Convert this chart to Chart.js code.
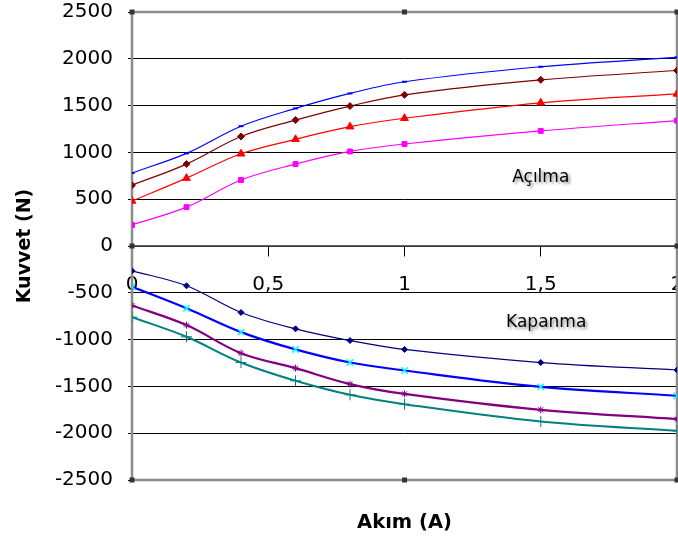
<!DOCTYPE html>
<html>
<head>
<meta charset="utf-8">
<script src="https://cdn.jsdelivr.net/npm/chart.js@4/dist/chart.umd.min.js"></script>
<style>
  html, body { margin: 0; padding: 0; background: #fff; }
  #wrap { width: 678px; height: 541px; position: relative; }
</style>
</head>
<body>
<div id="wrap"><canvas id="chart"></canvas></div>
<script>
// Current (A) at which each force was measured
const akim = [0, 0.2, 0.4, 0.6, 0.8, 1, 1.5, 2];

// Opening forces (N)
const acilma1 = [780, 990, 1280, 1470, 1630, 1755, 1915, 2015];
const acilma2 = [650, 875, 1170, 1345, 1495, 1615, 1775, 1875];
const acilma3 = [480, 725, 985, 1140, 1275, 1365, 1530, 1625];
const acilma4 = [225, 415, 705, 875, 1010, 1090, 1230, 1340];

// Closing forces (N)
const kapanma1 = [-265, -425, -710, -885, -1010, -1105, -1245, -1325];
const kapanma2 = [-435, -665, -920, -1105, -1245, -1330, -1505, -1600];
const kapanma3 = [-635, -845, -1145, -1305, -1475, -1580, -1750, -1850];
const kapanma4 = [-760, -970, -1245, -1440, -1590, -1690, -1875, -1975];

// Group labels written inside the plot, placed at data coordinates
const notes = ["Açılma", "Kapanma"];
const noteX = [1.5, 1.52];
const noteY = [730, -815];

const yTicks = [-2500, 2500, 500];

Chart.defaults.font.family = "'DejaVu Sans', Arial, sans-serif";
Chart.defaults.color = "#000";

function points(values) {
  return akim.map((x, i) => ({ x: x, y: values[i] }));
}

function series(values, color, lineWidth, marker) {
  return Object.assign({
    data: points(values),
    borderColor: color,
    backgroundColor: color,
    borderWidth: lineWidth,
    pointBorderColor: color,
    pointBackgroundColor: color,
    pointBorderWidth: 1,
    tension: 0.35,
    fill: false
  }, marker);
}

// the axes shouldn't push the plot area in for their end labels
function noPadding(scale) {
  scale.paddingLeft = 0;
  scale.paddingRight = 0;
  scale.paddingTop = 0;
  scale.paddingBottom = 0;
}

// Grey plot frame with the little selection handles round it
const plotFrame = {
  id: "plotFrame",
  beforeDatasetsDraw(chart) {
    const a = chart.chartArea;
    const ctx = chart.ctx;
    ctx.save();
    ctx.strokeStyle = "#8c8c8c";
    ctx.lineWidth = 2.5;
    ctx.strokeRect(a.left, a.top, a.right - a.left, a.bottom - a.top);
    const midX = (a.left + a.right) / 2;
    const midY = (a.top + a.bottom) / 2;
    const spots = [
      [a.left, a.top], [midX, a.top], [a.right, a.top],
      [a.left, midY], [a.right, midY],
      [a.left, a.bottom], [midX, a.bottom], [a.right, a.bottom]
    ];
    ctx.fillStyle = "#333";
    spots.forEach(([px, py]) => ctx.fillRect(px - 2.5, py - 2.5, 5, 5));
    ctx.restore();
  }
};

// Shadowed group labels
const groupNotes = {
  id: "groupNotes",
  afterDatasetsDraw(chart) {
    const ctx = chart.ctx;
    const xs = chart.scales.x;
    const ys = chart.scales.y;
    ctx.save();
    ctx.font = "17px 'DejaVu Sans', Arial, sans-serif";
    ctx.textAlign = "center";
    ctx.textBaseline = "middle";
    ctx.fillStyle = "#000";
    ctx.shadowColor = "rgba(0,0,0,0.45)";
    ctx.shadowOffsetX = 2;
    ctx.shadowOffsetY = 2;
    ctx.shadowBlur = 3;
    notes.forEach((text, i) => {
      ctx.fillText(text, xs.getPixelForValue(noteX[i]), ys.getPixelForValue(noteY[i]));
    });
    ctx.restore();
  }
};

new Chart(document.getElementById("chart"), {
  type: "line",
  data: {
    datasets: [
      series(acilma1, "#0000FF", 1.2, { pointStyle: "line", pointRadius: 2.5, pointBorderWidth: 2 }),
      series(acilma2, "#800000", 1.2, { pointStyle: "rectRot", pointRadius: 3.5 }),
      series(acilma3, "#FF0000", 1.2, { pointStyle: "triangle", pointRadius: 4.5 }),
      series(acilma4, "#FF00FF", 1.2, { pointStyle: "rect", pointRadius: 3.5 }),
      series(kapanma1, "#000080", 1.2, { pointStyle: "rectRot", pointRadius: 3 }),
      series(kapanma2, "#0000FF", 2.2, { pointStyle: "crossRot", pointRadius: 4.5, pointBorderColor: "#00FFFF", pointBorderWidth: 1.5 }),
      series(kapanma3, "#800080", 2.2, { pointStyle: "star", pointRadius: 3.5 }),
      series(kapanma4, "#008080", 2, { pointStyle: "cross", pointRadius: 5.5 })
    ]
  },
  options: {
    responsive: true,
    maintainAspectRatio: false,
    animation: false,
    layout: { autoPadding: false, padding: { top: 12, right: 1, bottom: 0, left: 0 } },
    plugins: {
      legend: { display: false },
      tooltip: { enabled: false }
    },
    scales: {
      x: {
        type: "linear",
        position: { y: 0 },
        min: 0,
        max: 2,
        ticks: {
          stepSize: 0.5,
          padding: 17,
          font: { size: 20 },
          maxRotation: 0,
          callback: (v) => String(v).replace(".", ",")
        },
        grid: { drawOnChartArea: false, drawTicks: true, tickLength: 10, color: "#000" },
        border: { display: true, color: "#666", width: 1.5 },
        afterFit: noPadding
      },
      xTitle: {
        type: "linear",
        position: "bottom",
        min: 0,
        max: 2,
        ticks: { display: false },
        grid: { display: false },
        border: { display: false },
        title: {
          display: true,
          text: "Akım (A)",
          font: { size: 19.5, weight: "bold" },
          padding: { top: 31, bottom: 6 }
        },
        afterFit(scale) {
          noPadding(scale);
          scale.height = 61;
        }
      },
      y: {
        type: "linear",
        min: yTicks[0],
        max: yTicks[1],
        ticks: {
          stepSize: yTicks[2],
          padding: 15,
          font: { size: 20 },
          callback: (v) => String(v)
        },
        grid: { color: "#000", lineWidth: 1, tickLength: 4 },
        border: { display: false },
        title: {
          display: true,
          text: "Kuvvet (N)",
          font: { size: 19, weight: "bold" },
          padding: { top: 13.5, bottom: 0 }
        },
        afterFit(scale) {
          noPadding(scale);
          scale.width = 132;
        }
      }
    }
  },
  plugins: [plotFrame, groupNotes]
});
</script>
</body>
</html>
